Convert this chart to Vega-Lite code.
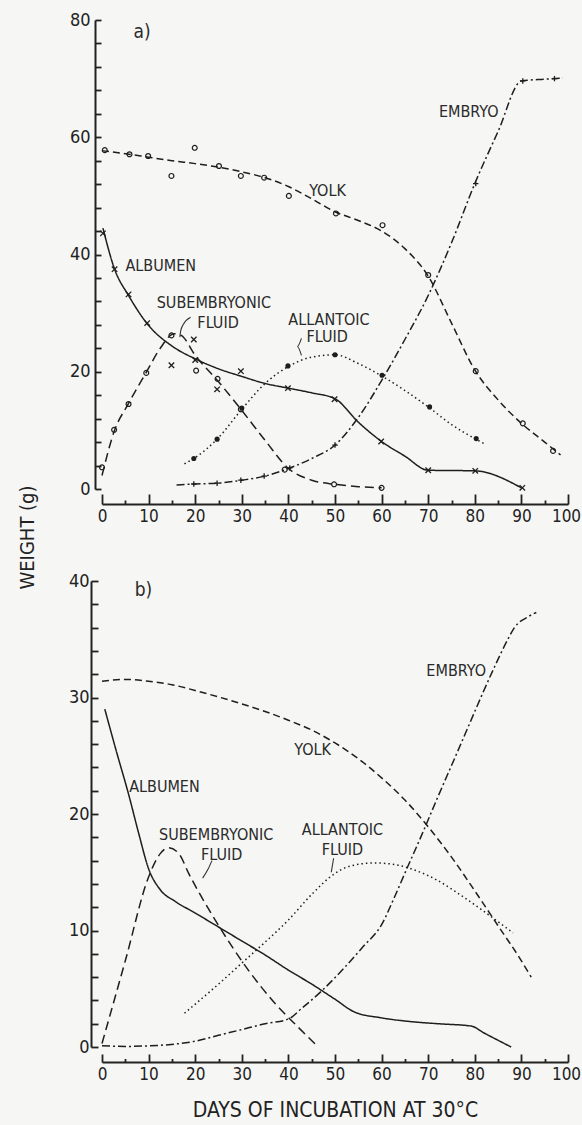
{
  "$schema": "https://vega.github.io/schema/vega-lite/v6.json",
  "autosize": "none",
  "padding": {"left": 102, "top": 20, "right": 480, "bottom": 1105},
  "background": "#f6f6f4",
  "bounds": "flush",
  "spacing": 92,
  "config": {
    "view": {"stroke": null},
    "font": "Liberation Sans Narrow, DejaVu Sans Condensed, sans-serif",
    "axis": {
      "domainColor": "#222", "domainWidth": 2, "tickColor": "#222", "tickWidth": 1.8,
      "labelColor": "#222", "labelFontSize": 17, "labelFont": "Liberation Sans Narrow, DejaVu Sans Condensed, sans-serif",
      "titleColor": "#222", "titleFont": "Liberation Sans Narrow, DejaVu Sans Condensed, sans-serif", "titleFontWeight": "normal",
      "grid": false, "labelOverlap": false, "labelFlush": false
    }
  },
  "datasets": {
    "a_lines": [
      {"s": "yolk", "x": 0, "y": 57.7}, {"s": "yolk", "x": 5, "y": 57.2}, {"s": "yolk", "x": 10, "y": 56.6}, {"s": "yolk", "x": 15, "y": 56.0}, {"s": "yolk", "x": 20, "y": 55.5}, {"s": "yolk", "x": 25, "y": 54.9}, {"s": "yolk", "x": 30, "y": 54.1}, {"s": "yolk", "x": 35, "y": 53.1}, {"s": "yolk", "x": 40, "y": 51.6}, {"s": "yolk", "x": 45, "y": 49.5}, {"s": "yolk", "x": 50, "y": 47.3}, {"s": "yolk", "x": 55, "y": 45.8}, {"s": "yolk", "x": 60, "y": 44.0}, {"s": "yolk", "x": 65, "y": 41.0}, {"s": "yolk", "x": 70, "y": 36.3}, {"s": "yolk", "x": 75, "y": 28.3}, {"s": "yolk", "x": 80, "y": 20.3}, {"s": "yolk", "x": 85, "y": 15.2}, {"s": "yolk", "x": 90, "y": 11.2}, {"s": "yolk", "x": 95, "y": 8.0}, {"s": "yolk", "x": 98.4, "y": 5.8},
      {"s": "albumen", "x": 0.2, "y": 44.5}, {"s": "albumen", "x": 2.7, "y": 37.5}, {"s": "albumen", "x": 5.7, "y": 33.0}, {"s": "albumen", "x": 10, "y": 27.9}, {"s": "albumen", "x": 15, "y": 24.4}, {"s": "albumen", "x": 20, "y": 22.2}, {"s": "albumen", "x": 25, "y": 20.5}, {"s": "albumen", "x": 30, "y": 19.2}, {"s": "albumen", "x": 35, "y": 18.0}, {"s": "albumen", "x": 40, "y": 17.2}, {"s": "albumen", "x": 45, "y": 16.4}, {"s": "albumen", "x": 50, "y": 15.4}, {"s": "albumen", "x": 55, "y": 11.4}, {"s": "albumen", "x": 60, "y": 8.1}, {"s": "albumen", "x": 65, "y": 5.6}, {"s": "albumen", "x": 70, "y": 3.2}, {"s": "albumen", "x": 80, "y": 3.1}, {"s": "albumen", "x": 90, "y": 0.2},
      {"s": "sub", "x": 0, "y": 2.3}, {"s": "sub", "x": 2.6, "y": 9.8}, {"s": "sub", "x": 5.7, "y": 14.6}, {"s": "sub", "x": 9.5, "y": 19.9}, {"s": "sub", "x": 12.5, "y": 24.0}, {"s": "sub", "x": 15.5, "y": 26.5}, {"s": "sub", "x": 17, "y": 26.2}, {"s": "sub", "x": 20, "y": 22.8}, {"s": "sub", "x": 25, "y": 18.3}, {"s": "sub", "x": 30, "y": 13.4}, {"s": "sub", "x": 35, "y": 8.3}, {"s": "sub", "x": 40, "y": 3.5}, {"s": "sub", "x": 45, "y": 1.5}, {"s": "sub", "x": 50, "y": 0.8}, {"s": "sub", "x": 55, "y": 0.4}, {"s": "sub", "x": 60, "y": 0.2},
      {"s": "allantoic", "x": 17.7, "y": 4.3}, {"s": "allantoic", "x": 19.7, "y": 5.2}, {"s": "allantoic", "x": 24.7, "y": 8.5}, {"s": "allantoic", "x": 30, "y": 13.6}, {"s": "allantoic", "x": 35, "y": 18.0}, {"s": "allantoic", "x": 40, "y": 20.9}, {"s": "allantoic", "x": 45, "y": 22.5}, {"s": "allantoic", "x": 50, "y": 22.9}, {"s": "allantoic", "x": 55, "y": 21.4}, {"s": "allantoic", "x": 60, "y": 19.3}, {"s": "allantoic", "x": 65, "y": 16.8}, {"s": "allantoic", "x": 70, "y": 14.0}, {"s": "allantoic", "x": 75, "y": 11.0}, {"s": "allantoic", "x": 80, "y": 8.6}, {"s": "allantoic", "x": 82.1, "y": 7.7},
      {"s": "embryo", "x": 16, "y": 0.7}, {"s": "embryo", "x": 20, "y": 0.85}, {"s": "embryo", "x": 25, "y": 1.0}, {"s": "embryo", "x": 30, "y": 1.5}, {"s": "embryo", "x": 35, "y": 2.2}, {"s": "embryo", "x": 40, "y": 3.5}, {"s": "embryo", "x": 45, "y": 5.2}, {"s": "embryo", "x": 50, "y": 7.5}, {"s": "embryo", "x": 55, "y": 12.2}, {"s": "embryo", "x": 60, "y": 18.5}, {"s": "embryo", "x": 65, "y": 25.5}, {"s": "embryo", "x": 70, "y": 33.0}, {"s": "embryo", "x": 75, "y": 42.0}, {"s": "embryo", "x": 80, "y": 52.1}, {"s": "embryo", "x": 85, "y": 61.0}, {"s": "embryo", "x": 90, "y": 69.6}, {"s": "embryo", "x": 95, "y": 69.9}, {"s": "embryo", "x": 98.9, "y": 70.1}
    ],
    "a_pts": [
      {"s": "yolk", "x": 0.6, "y": 57.8}, {"s": "yolk", "x": 5.9, "y": 57.1}, {"s": "yolk", "x": 9.9, "y": 56.8}, {"s": "yolk", "x": 14.9, "y": 53.4}, {"s": "yolk", "x": 19.9, "y": 58.2}, {"s": "yolk", "x": 25.1, "y": 55.1}, {"s": "yolk", "x": 29.8, "y": 53.4}, {"s": "yolk", "x": 34.8, "y": 53.1}, {"s": "yolk", "x": 40.1, "y": 50.0}, {"s": "yolk", "x": 50.2, "y": 47.0}, {"s": "yolk", "x": 60.2, "y": 45.0}, {"s": "yolk", "x": 70, "y": 36.5}, {"s": "yolk", "x": 80.2, "y": 20.1}, {"s": "yolk", "x": 90.3, "y": 11.2}, {"s": "yolk", "x": 96.8, "y": 6.5},
      {"s": "sub", "x": 0, "y": 3.7}, {"s": "sub", "x": 2.6, "y": 10.1}, {"s": "sub", "x": 5.7, "y": 14.5}, {"s": "sub", "x": 9.5, "y": 19.8}, {"s": "sub", "x": 14.9, "y": 26.2}, {"s": "sub", "x": 20.2, "y": 20.2}, {"s": "sub", "x": 24.8, "y": 18.8}, {"s": "sub", "x": 29.8, "y": 13.6}, {"s": "sub", "x": 39.2, "y": 3.3}, {"s": "sub", "x": 49.8, "y": 0.8}, {"s": "sub", "x": 60, "y": 0.2},
      {"s": "allantoic", "x": 19.7, "y": 5.2}, {"s": "allantoic", "x": 24.7, "y": 8.5}, {"s": "allantoic", "x": 30, "y": 13.8}, {"s": "allantoic", "x": 39.9, "y": 21.0}, {"s": "allantoic", "x": 50, "y": 22.9}, {"s": "allantoic", "x": 60.1, "y": 19.4}, {"s": "allantoic", "x": 70.3, "y": 14.0}, {"s": "allantoic", "x": 80.3, "y": 8.6},
      {"s": "albumen", "x": 0.2, "y": 43.6}, {"s": "albumen", "x": 2.7, "y": 37.5}, {"s": "albumen", "x": 5.7, "y": 33.2}, {"s": "albumen", "x": 9.7, "y": 28.3}, {"s": "albumen", "x": 14.9, "y": 21.1}, {"s": "albumen", "x": 19.7, "y": 25.5}, {"s": "albumen", "x": 20, "y": 22.0}, {"s": "albumen", "x": 24.7, "y": 17.0}, {"s": "albumen", "x": 29.8, "y": 20.1}, {"s": "albumen", "x": 39.9, "y": 17.2}, {"s": "albumen", "x": 49.9, "y": 15.3}, {"s": "albumen", "x": 59.9, "y": 8.1}, {"s": "albumen", "x": 70, "y": 3.2}, {"s": "albumen", "x": 80.1, "y": 3.1}, {"s": "albumen", "x": 90.2, "y": 0.2},
      {"s": "embryo", "x": 19.7, "y": 0.85}, {"s": "embryo", "x": 24.7, "y": 1.0}, {"s": "embryo", "x": 29.8, "y": 1.5}, {"s": "embryo", "x": 34.8, "y": 2.2}, {"s": "embryo", "x": 40.3, "y": 3.6}, {"s": "embryo", "x": 50, "y": 7.5}, {"s": "embryo", "x": 80.2, "y": 52.1}, {"s": "embryo", "x": 90.3, "y": 69.6}, {"s": "embryo", "x": 97.1, "y": 70.0}
    ],
    "a_text": [
      {"t": "a)", "x": 8.6, "y": 78, "big": true},
      {"t": "ALBUMEN", "x": 12.6, "y": 38.1, "big": false},
      {"t": "SUBEMBRYONIC", "x": 24.0, "y": 31.7, "big": false},
      {"t": "FLUID", "x": 24.9, "y": 28.4, "big": false},
      {"t": "ALLANTOIC", "x": 48.7, "y": 28.8, "big": false},
      {"t": "FLUID", "x": 48.3, "y": 25.9, "big": false},
      {"t": "YOLK", "x": 48.4, "y": 50.9, "big": false},
      {"t": "EMBRYO", "x": 78.7, "y": 64.3, "big": false}
    ],
    "a_lead": [
      {"g": "sub", "x": 19.0, "y": 29.3}, {"g": "sub", "x": 17.4, "y": 28.0}, {"g": "sub", "x": 16.9, "y": 27.0}, {"g": "sub", "x": 16.7, "y": 25.9},
      {"g": "all", "x": 42.8, "y": 25.7}, {"g": "all", "x": 41.9, "y": 24.3}, {"g": "all", "x": 42.8, "y": 22.8}
    ],
    "b_lines": [
      {"s": "yolk", "x": 0, "y": 31.4}, {"s": "yolk", "x": 5, "y": 31.55}, {"s": "yolk", "x": 10, "y": 31.4}, {"s": "yolk", "x": 15, "y": 31.1}, {"s": "yolk", "x": 20, "y": 30.6}, {"s": "yolk", "x": 25, "y": 30.05}, {"s": "yolk", "x": 30, "y": 29.45}, {"s": "yolk", "x": 35, "y": 28.8}, {"s": "yolk", "x": 40, "y": 28.05}, {"s": "yolk", "x": 45, "y": 27.2}, {"s": "yolk", "x": 50, "y": 26.1}, {"s": "yolk", "x": 55, "y": 24.75}, {"s": "yolk", "x": 60, "y": 23.1}, {"s": "yolk", "x": 65, "y": 21.2}, {"s": "yolk", "x": 70, "y": 18.9}, {"s": "yolk", "x": 75, "y": 16.3}, {"s": "yolk", "x": 80, "y": 13.4}, {"s": "yolk", "x": 85, "y": 10.4}, {"s": "yolk", "x": 90, "y": 7.4}, {"s": "yolk", "x": 92.1, "y": 6.0},
      {"s": "albumen", "x": 0.6, "y": 29.0}, {"s": "albumen", "x": 3, "y": 25.5}, {"s": "albumen", "x": 5.7, "y": 21.7}, {"s": "albumen", "x": 7.9, "y": 18.3}, {"s": "albumen", "x": 10, "y": 15.3}, {"s": "albumen", "x": 12.5, "y": 13.5}, {"s": "albumen", "x": 15.7, "y": 12.5}, {"s": "albumen", "x": 20, "y": 11.5}, {"s": "albumen", "x": 25, "y": 10.3}, {"s": "albumen", "x": 30, "y": 9.1}, {"s": "albumen", "x": 35, "y": 7.9}, {"s": "albumen", "x": 40, "y": 6.6}, {"s": "albumen", "x": 45, "y": 5.4}, {"s": "albumen", "x": 50, "y": 4.1}, {"s": "albumen", "x": 54.2, "y": 3.0}, {"s": "albumen", "x": 60, "y": 2.5}, {"s": "albumen", "x": 65.7, "y": 2.2}, {"s": "albumen", "x": 72, "y": 2.0}, {"s": "albumen", "x": 79.2, "y": 1.8}, {"s": "albumen", "x": 82, "y": 1.2}, {"s": "albumen", "x": 87.8, "y": 0},
      {"s": "sub", "x": 0, "y": 0.3}, {"s": "sub", "x": 5, "y": 7.4}, {"s": "sub", "x": 10, "y": 14.6}, {"s": "sub", "x": 12.5, "y": 16.6}, {"s": "sub", "x": 14.3, "y": 17.1}, {"s": "sub", "x": 16.5, "y": 16.6}, {"s": "sub", "x": 18.6, "y": 14.9}, {"s": "sub", "x": 24.3, "y": 10.9}, {"s": "sub", "x": 31.4, "y": 6.6}, {"s": "sub", "x": 37, "y": 3.8}, {"s": "sub", "x": 42.1, "y": 1.7}, {"s": "sub", "x": 46.4, "y": 0},
      {"s": "allantoic", "x": 17.7, "y": 2.9}, {"s": "allantoic", "x": 25, "y": 5.4}, {"s": "allantoic", "x": 30, "y": 7.2}, {"s": "allantoic", "x": 35, "y": 9.0}, {"s": "allantoic", "x": 40, "y": 10.9}, {"s": "allantoic", "x": 45, "y": 13.1}, {"s": "allantoic", "x": 50, "y": 14.9}, {"s": "allantoic", "x": 53, "y": 15.5}, {"s": "allantoic", "x": 58.5, "y": 15.8}, {"s": "allantoic", "x": 63, "y": 15.65}, {"s": "allantoic", "x": 67, "y": 15.2}, {"s": "allantoic", "x": 72, "y": 14.3}, {"s": "allantoic", "x": 76, "y": 13.3}, {"s": "allantoic", "x": 81.4, "y": 11.8}, {"s": "allantoic", "x": 88.2, "y": 9.8},
      {"s": "embryo", "x": 0, "y": 0.1}, {"s": "embryo", "x": 5, "y": 0.05}, {"s": "embryo", "x": 10, "y": 0.1}, {"s": "embryo", "x": 14.3, "y": 0.2}, {"s": "embryo", "x": 20, "y": 0.5}, {"s": "embryo", "x": 25, "y": 1.0}, {"s": "embryo", "x": 30, "y": 1.5}, {"s": "embryo", "x": 35, "y": 2.0}, {"s": "embryo", "x": 40, "y": 2.4}, {"s": "embryo", "x": 42.8, "y": 3.3}, {"s": "embryo", "x": 47.1, "y": 4.8}, {"s": "embryo", "x": 52, "y": 6.8}, {"s": "embryo", "x": 56, "y": 8.6}, {"s": "embryo", "x": 60, "y": 10.5}, {"s": "embryo", "x": 62.8, "y": 12.9}, {"s": "embryo", "x": 65.3, "y": 15.2}, {"s": "embryo", "x": 68.5, "y": 18.1}, {"s": "embryo", "x": 72, "y": 21.4}, {"s": "embryo", "x": 75.7, "y": 24.8}, {"s": "embryo", "x": 78.5, "y": 27.4}, {"s": "embryo", "x": 81.4, "y": 30.1}, {"s": "embryo", "x": 84.2, "y": 32.6}, {"s": "embryo", "x": 87.1, "y": 35.0}, {"s": "embryo", "x": 88.5, "y": 36.0}, {"s": "embryo", "x": 91.3, "y": 36.9}, {"s": "embryo", "x": 93.2, "y": 37.3}
    ],
    "b_text": [
      {"t": "b)", "x": 8.9, "y": 39.2, "big": true},
      {"t": "ALBUMEN", "x": 13.4, "y": 22.3, "big": false},
      {"t": "SUBEMBRYONIC", "x": 24.5, "y": 18.2, "big": false},
      {"t": "FLUID", "x": 25.7, "y": 16.5, "big": false},
      {"t": "ALLANTOIC", "x": 51.6, "y": 18.6, "big": false},
      {"t": "FLUID", "x": 51.6, "y": 16.9, "big": false},
      {"t": "YOLK", "x": 45.2, "y": 25.5, "big": false},
      {"t": "EMBRYO", "x": 76.0, "y": 32.3, "big": false}
    ],
    "b_lead": [
      {"g": "sub", "x": 23.6, "y": 16.0}, {"g": "sub", "x": 22.8, "y": 15.3}, {"g": "sub", "x": 21.6, "y": 14.5},
      {"g": "all", "x": 49.7, "y": 16.2}, {"g": "all", "x": 49.2, "y": 15.0}
    ]
  },
  "vconcat": [
    {
      "width": 466,
      "height": 469,
      "encoding": {
        "x": {"field": "x", "type": "quantitative", "scale": {"domain": [0, 100]},
          "axis": {"title": null, "offset": 15, "values": [0,5,10,15,20,25,30,35,40,45,50,55,60,65,70,75,80,85,90,95,100],
            "labelExpr": "datum.value % 10 === 0 ? datum.label : ''",
            "tickSize": {"condition": {"test": "datum.value % 10 === 0", "value": -10}, "value": -4},
            "labelOffset": {"condition": {"test": "datum.value === 100", "value": -2}, "value": 0},
            "labelPadding": 14}},
        "y": {"field": "y", "type": "quantitative", "scale": {"domain": [0, 80]},
          "axis": {"title": "WEIGHT (g)", "offset": 7, "values": [0,4,8,12,16,20,24,28,32,36,40,44,48,52,56,60,64,68,72,76,80],
            "labelExpr": "datum.value % 20 === 0 ? datum.label : ''",
            "tickSize": -6, "labelPadding": 11, "labelFontSize": 18,
            "titleFontSize": 20, "titleAngle": 270, "titleAlign": "center", "titleBaseline": "middle",
            "titleX": -68, "titleY": 517}}
      },
      "layer": [
        {
          "data": {"name": "a_lines"},
          "mark": {"type": "line", "interpolate": "monotone", "color": "#1e1e1e", "strokeWidth": 1.5},
          "encoding": {
            "strokeDash": {"field": "s", "type": "nominal", "legend": null,
              "scale": {"domain": ["yolk", "albumen", "sub", "allantoic", "embryo"], "range": [[7, 4], [1, 0], [9, 5], [1.5, 3], [8, 3, 2, 3]]}}
          }
        },
        {
          "data": {"name": "a_pts"},
          "transform": [{"filter": "datum.s === 'yolk' || datum.s === 'sub'"}],
          "mark": {"type": "point", "shape": "circle", "filled": false, "color": "#1e1e1e", "size": 24, "strokeWidth": 1.2, "opacity": 1}
        },
        {
          "data": {"name": "a_pts"},
          "transform": [{"filter": "datum.s === 'allantoic'"}],
          "mark": {"type": "point", "shape": "circle", "filled": true, "color": "#1e1e1e", "size": 26, "opacity": 1}
        },
        {
          "data": {"name": "a_pts"},
          "transform": [{"filter": "datum.s === 'albumen'"}],
          "mark": {"type": "point", "shape": "M-1,-1L1,1M-1,1L1,-1", "filled": false, "color": "#1e1e1e", "size": 30, "strokeWidth": 1.3, "opacity": 1}
        },
        {
          "data": {"name": "a_pts"},
          "transform": [{"filter": "datum.s === 'embryo'"}],
          "mark": {"type": "point", "shape": "M-1,0L1,0M0,-1L0,1", "filled": false, "color": "#1e1e1e", "size": 30, "strokeWidth": 1.3, "opacity": 1}
        },
        {
          "data": {"name": "a_lead"},
          "mark": {"type": "line", "interpolate": "monotone", "color": "#333", "strokeWidth": 1.1},
          "encoding": {"detail": {"field": "g", "type": "nominal"}, "order": {"field": "y", "type": "quantitative", "sort": "descending"}}
        },
        {
          "data": {"name": "a_text"},
          "mark": {"type": "text", "color": "#2a2a2a", "align": "center", "baseline": "middle"},
          "encoding": {
            "text": {"field": "t", "type": "nominal"},
            "size": {"condition": {"test": "datum.big", "value": 19}, "value": 16}
          }
        }
      ]
    },
    {
      "width": 466,
      "height": 466,
      "encoding": {
        "x": {"field": "x", "type": "quantitative", "scale": {"domain": [0, 100]},
          "axis": {"title": "DAYS OF INCUBATION AT 30°C", "offset": 15, "values": [0,5,10,15,20,25,30,35,40,45,50,55,60,65,70,75,80,85,90,95,100],
            "labelExpr": "datum.value % 10 === 0 ? datum.label : ''",
            "tickSize": {"condition": {"test": "datum.value % 10 === 0", "value": -8}, "value": -3.5},
            "labelOffset": {"condition": {"test": "datum.value === 100", "value": -2}, "value": 0},
            "labelPadding": 12, "titleFontSize": 21, "titlePadding": 13}},
        "y": {"field": "y", "type": "quantitative", "scale": {"domain": [0, 40]},
          "axis": {"title": null, "offset": 11, "values": [0,2,4,6,8,10,12,14,16,18,20,22,24,26,28,30,32,34,36,38,40],
            "labelExpr": "datum.value % 10 === 0 ? datum.label : ''",
            "tickSize": -7, "labelPadding": 9, "labelFontSize": 18}}
      },
      "layer": [
        {
          "data": {"name": "b_lines"},
          "mark": {"type": "line", "interpolate": "monotone", "color": "#1e1e1e", "strokeWidth": 1.5},
          "encoding": {
            "strokeDash": {"field": "s", "type": "nominal", "legend": null,
              "scale": {"domain": ["yolk", "albumen", "sub", "allantoic", "embryo"], "range": [[6, 4], [1, 0], [12, 6], [1.5, 3], [8, 3, 2, 3]]}}
          }
        },
        {
          "data": {"name": "b_lead"},
          "mark": {"type": "line", "interpolate": "monotone", "color": "#333", "strokeWidth": 1.1},
          "encoding": {"detail": {"field": "g", "type": "nominal"}, "order": {"field": "y", "type": "quantitative", "sort": "descending"}}
        },
        {
          "data": {"name": "b_text"},
          "mark": {"type": "text", "color": "#2a2a2a", "align": "center", "baseline": "middle"},
          "encoding": {
            "text": {"field": "t", "type": "nominal"},
            "size": {"condition": {"test": "datum.big", "value": 19}, "value": 16}
          }
        }
      ]
    }
  ]
}
